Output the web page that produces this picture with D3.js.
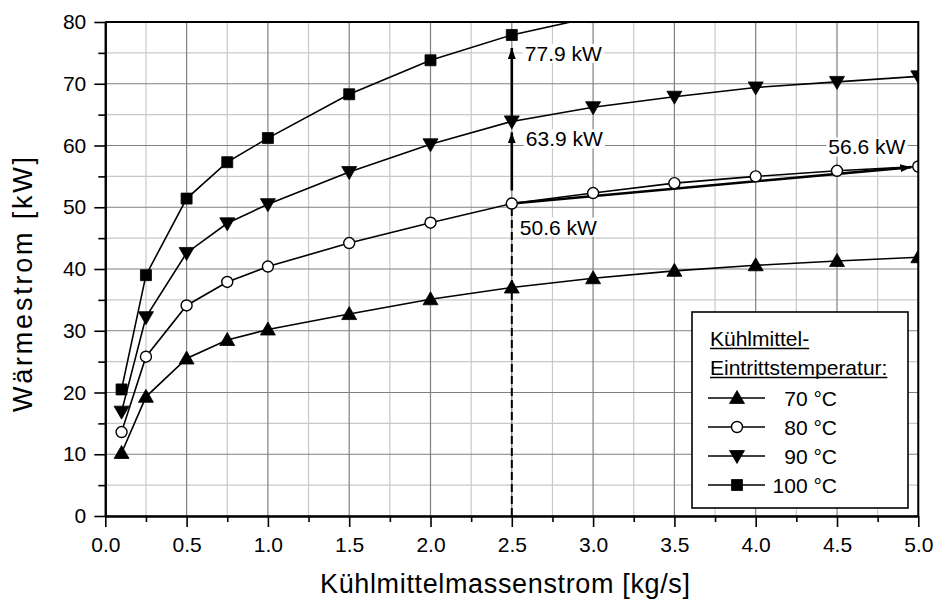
<!DOCTYPE html>
<html>
<head>
<meta charset="utf-8">
<script src="https://cdn.jsdelivr.net/npm/d3@7"></script>
<style>
    body { margin: 0; background: #fff; }
    svg { display: block; font-family: "Liberation Sans", Arial, sans-serif; }
</style>
</head>
<body>
<div id="chart"></div>
<script>
// values
const massFlow = [0.1, 0.25, 0.5, 0.75, 1.0, 1.5, 2.0, 2.5, 3.0, 3.5, 4.0, 4.5, 5.0]
const heat70 = [10.2, 19.3, 25.5, 28.5, 30.2, 32.7, 35.1, 37.0, 38.5, 39.7, 40.6, 41.3, 41.9]
const heat80 = [13.6, 25.8, 34.1, 37.9, 40.4, 44.2, 47.5, 50.6, 52.3, 53.9, 55.0, 55.9, 56.6]
const heat90 = [16.9, 32.2, 42.6, 47.4, 50.5, 55.7, 60.2, 63.9, 66.2, 67.9, 69.4, 70.3, 71.2]
const heat100 = [20.5, 39.0, 51.4, 57.3, 61.2, 68.3, 73.8, 77.9, 80.8]

const seriesNames = ["70 °C", "80 °C", "90 °C", "100 °C"]
const seriesValues = [heat70, heat80, heat90, heat100]
const seriesSymbols = ["triUp", "circle", "triDown", "square"]

const xTicks = [0, 0.5, 1.0, 1.5, 2.0, 2.5, 3.0, 3.5, 4.0, 4.5, 5.0]
const xMinor = [0.25, 0.75, 1.25, 1.75, 2.25, 2.75, 3.25, 3.75, 4.25, 4.75]
const yTicks = [0, 10, 20, 30, 40, 50, 60, 70, 80]
const yMinor = [5, 15, 25, 35, 45, 55, 65, 75]

// annotations: arrows and value labels
const arrowFrom = [[2.5, 50.6], [2.5, 63.9], [2.5, 50.6]]
const arrowTo = [[2.5, 63.9], [2.5, 77.9], [5.0, 56.6]]
const labelAt = [[2.5, 77.9], [2.5, 63.9], [2.5, 50.6], [5.0, 56.6]]
const labelText = ["77.9 kW", "63.9 kW", "50.6 kW", "56.6 kW"]
const dropLine = [2.5, 50.6]

const W = 935, H = 604
const margin = { top: 22, right: 16.7, bottom: 88, left: 105.3 }
const width = W - margin.left - margin.right
const height = H - margin.top - margin.bottom

const svg = d3.select('#chart')
    .append('svg')
    .attr('width', W)
    .attr('height', H)

const g = svg.append('g')
    .attr('transform', `translate(${margin.left},${margin.top})`)

const x = d3.scaleLinear().domain([0, 5]).range([0, width])
const y = d3.scaleLinear().domain([0, 80]).range([height, 0])

// grid: minor first, then major
g.append('g').selectAll('line').data(xMinor).join('line')
    .attr('x1', d => x(d)).attr('x2', d => x(d))
    .attr('y1', 0).attr('y2', height)
    .attr('stroke', '#c8c8c8').attr('stroke-width', 1.2)
g.append('g').selectAll('line').data(yMinor).join('line')
    .attr('x1', 0).attr('x2', width)
    .attr('y1', d => y(d)).attr('y2', d => y(d))
    .attr('stroke', '#c8c8c8').attr('stroke-width', 1.2)
g.append('g').selectAll('line').data(xTicks).join('line')
    .attr('x1', d => x(d)).attr('x2', d => x(d))
    .attr('y1', 0).attr('y2', height)
    .attr('stroke', '#808080').attr('stroke-width', 1.2)
g.append('g').selectAll('line').data(yTicks).join('line')
    .attr('x1', 0).attr('x2', width)
    .attr('y1', d => y(d)).attr('y2', d => y(d))
    .attr('stroke', '#808080').attr('stroke-width', 1.2)

// clip for the data
svg.append('defs').append('clipPath').attr('id', 'plotClip')
    .append('rect').attr('x', 0).attr('y', 0).attr('width', width).attr('height', height)

const defs = svg.select('defs')
defs.append('marker')
    .attr('id', 'head')
    .attr('markerUnits', 'userSpaceOnUse')
    .attr('viewBox', '0 0 11 8')
    .attr('refX', 11).attr('refY', 4)
    .attr('markerWidth', 11).attr('markerHeight', 8)
    .attr('orient', 'auto')
    .append('path')
    .attr('d', 'M0,0 L11,4 L0,8 Z')
    .attr('fill', '#000')

// dashed drop line
g.append('line')
    .attr('x1', x(dropLine[0])).attr('x2', x(dropLine[0]))
    .attr('y1', y(0)).attr('y2', y(dropLine[1]))
    .attr('stroke', '#000').attr('stroke-width', 2)
    .attr('stroke-dasharray', '8,4')

// arrows
const pads = [[13, 11], [3, 13], [6, 7]]
arrowFrom.forEach((a, i) => {
    const x1 = x(a[0]), y1 = y(a[1]), x2 = x(arrowTo[i][0]), y2 = y(arrowTo[i][1])
    const len = Math.hypot(x2 - x1, y2 - y1)
    const ux = (x2 - x1) / len, uy = (y2 - y1) / len
    g.append('line')
        .attr('x1', x1 + ux * pads[i][0]).attr('y1', y1 + uy * pads[i][0])
        .attr('x2', x2 - ux * pads[i][1]).attr('y2', y2 - uy * pads[i][1])
        .attr('stroke', '#000').attr('stroke-width', 2.6)
        .attr('marker-end', 'url(#head)')
})

// value labels with white background
const labelOffsets = [[13, 26, 'start'], [14, 25, 'start'], [8, 31, 'start'], [-13, -12, 'end']]
labelAt.forEach((p, i) => {
    const t = g.append('text')
        .attr('x', x(p[0]) + labelOffsets[i][0])
        .attr('y', y(p[1]) + labelOffsets[i][1])
        .attr('text-anchor', labelOffsets[i][2])
        .attr('font-size', 21)
        .text(labelText[i])
    const bb = t.node().getBBox()
    g.insert('rect', () => t.node())
        .attr('x', bb.x - 2).attr('y', bb.y + 2)
        .attr('width', bb.width + 4).attr('height', bb.height - 4)
        .attr('fill', '#fff')
})

// marker shapes
const symbolPath = (type) => {
    if (type == 'triUp') return 'M0,-7.5 L7.5,5.5 L-7.5,5.5 Z'
    if (type == 'triDown') return 'M0,7.5 L7.5,-5.5 L-7.5,-5.5 Z'
    if (type == 'square') return 'M-5.5,-5.5 H5.5 V5.5 H-5.5 Z'
    return d3.symbol(d3.symbolCircle, Math.PI * 5.5 * 5.5)()
}
const drawSymbol = (sel, type) => sel.append('path')
    .attr('d', symbolPath(type))
    .attr('fill', type == 'circle' ? '#fff' : '#000')
    .attr('stroke', '#000')
    .attr('stroke-width', type == 'circle' ? 1.4 : 0.8)

const data = g.append('g').attr('clip-path', 'url(#plotClip)')
seriesValues.forEach((vals, i) => {
    const pts = vals.map((v, j) => [massFlow[j], v])
    data.append('path')
        .datum(pts)
        .attr('fill', 'none')
        .attr('stroke', '#000')
        .attr('stroke-width', 1.6)
        .attr('d', d3.line().x(d => x(d[0])).y(d => y(d[1])))
    pts.forEach(p => {
        const s = data.append('g').attr('transform', `translate(${x(p[0])},${y(p[1])})`)
        drawSymbol(s, seriesSymbols[i])
    })
})

// axes
const xAxis = g.append('g')
    .attr('transform', `translate(0,${height})`)
    .call(d3.axisBottom(x).tickValues(xTicks).tickFormat(d3.format('.1f'))
        .tickSize(11).tickSizeOuter(0).tickPadding(10))
const xAxisMinor = g.append('g')
    .attr('transform', `translate(0,${height})`)
    .call(d3.axisBottom(x).tickValues(xMinor).tickFormat('').tickSize(6).tickSizeOuter(0))
const yAxis = g.append('g')
    .call(d3.axisLeft(y).tickValues(yTicks).tickFormat(d3.format('d'))
        .tickSize(11).tickSizeOuter(0).tickPadding(8))
const yAxisMinor = g.append('g')
    .call(d3.axisLeft(y).tickValues(yMinor).tickFormat('').tickSize(7).tickSizeOuter(0))

g.selectAll('.domain').attr('stroke', '#000').attr('stroke-width', 2)
g.selectAll('.tick line').attr('stroke', '#000').attr('stroke-width', 1.6)
g.selectAll('.tick text')
    .attr('font-family', '"Liberation Sans", Arial, sans-serif')
    .attr('font-size', 21).attr('fill', '#000')

// frame top and right
g.append('path')
    .attr('d', `M0,0 H${width} V${height}`)
    .attr('fill', 'none').attr('stroke', '#000').attr('stroke-width', 2)

// axis titles
svg.append('text')
    .attr('x', 505).attr('y', 593)
    .attr('text-anchor', 'middle')
    .attr('font-size', 27)
    .attr('textLength', 370).attr('lengthAdjust', 'spacing')
    .text('Kühlmittelmassenstrom [kg/s]')
svg.append('text')
    .attr('transform', 'translate(32,284.5) rotate(-90)')
    .attr('text-anchor', 'middle')
    .attr('font-size', 27)
    .attr('textLength', 255).attr('lengthAdjust', 'spacing')
    .text('Wärmestrom [kW]')

// legend
const legend = svg.append('g')
legend.append('rect')
    .attr('x', 692).attr('y', 312).attr('width', 216).attr('height', 196)
    .attr('fill', '#fff').attr('stroke', '#000').attr('stroke-width', 1.6)

const headers = ["Kühlmittel-", "Eintrittstemperatur:"]
headers.forEach((h, i) => {
    const t = legend.append('text')
        .attr('x', 710).attr('y', 346 + i * 29)
        .attr('font-size', 21)
        .text(h)
    const w = t.node().getComputedTextLength()
    legend.append('line')
        .attr('x1', 710).attr('x2', 710 + w)
        .attr('y1', 348.5 + i * 29).attr('y2', 348.5 + i * 29)
        .attr('stroke', '#000').attr('stroke-width', 1.6)
})

seriesNames.forEach((name, i) => {
    const cy = 398 + i * 29
    legend.append('line')
        .attr('x1', 708).attr('x2', 765)
        .attr('y1', cy).attr('y2', cy)
        .attr('stroke', '#000').attr('stroke-width', 1.6)
    const s = legend.append('g').attr('transform', `translate(737,${cy})`)
    drawSymbol(s, seriesSymbols[i])
    legend.append('text')
        .attr('x', 837).attr('y', cy + 7.5)
        .attr('text-anchor', 'end')
        .attr('font-size', 21)
        .text(name)
})
</script>
</body>
</html>
